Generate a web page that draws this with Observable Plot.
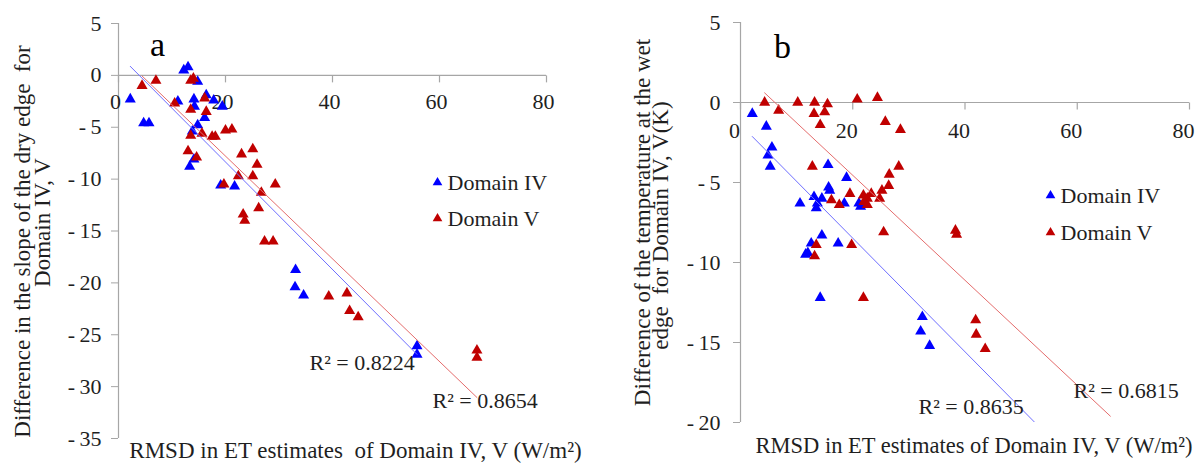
<!DOCTYPE html>
<html><head><meta charset="utf-8">
<script src="https://cdn.jsdelivr.net/npm/d3@7"></script>
<script src="https://cdn.jsdelivr.net/npm/@observablehq/plot@0.6"></script>
<style>
body{margin:0;background:#fff;}
#wrap{display:flex;width:1197px;height:464px;overflow:hidden;}
</style></head><body><div id="wrap"></div>
<script>
// ---- shared ----
const xTicks = [0, 20, 40, 60, 80];
const seriesNames = ["Domain IV", "Domain V"];
const markerColors = ["#0000FF", "#C00000"];
const trendColors = ["#6e6eff", "#e46c6c"];
const xTitleA = "RMSD in ET estimates  of Domain IV, V (W/m²)";
const xTitleB = "RMSD in ET estimates of Domain IV, V (W/m²)";

// ---- panel a ----
const yTicksA = [5, 0, -5, -10, -15, -20, -25, -30, -35];
const aIVx = [2.2,4.7,5.7,12.2,13.0,14.8,11.1,14.1,14.2,16.4,16.1,17.8,19.4,14.8,13.8,14.1,13.3,19.1,21.7,33.1,33.0,34.6,55.8,55.8];
const aIVy = [-2.3,-4.6,-4.6,0.5,0.8,-0.6,-2.5,-2.3,-3.0,-1.9,-4.1,-2.4,-3.0,-4.8,-5.4,-8.1,-8.8,-10.6,-10.7,-18.75,-20.4,-21.2,-26.1,-26.9];
const aVx = [4.4,7.0,10.5,13.5,14.0,13.5,16.1,16.4,13.5,15.6,17.5,18.1,20.0,21.2,13.0,14.6,19.7,23.0,25.1,25.9,25.1,22.4,29.3,26.7,26.2,23.3,23.6,27.3,28.9,39.3,42.7,43.2,44.8,67.0,67.0];
const aVy = [-1.0,-0.5,-2.7,-0.5,-0.3,-3.3,-2.2,-3.5,-5.8,-5.6,-5.9,-5.9,-5.3,-5.2,-7.3,-7.9,-10.5,-7.6,-7.1,-8.6,-9.7,-9.7,-10.5,-11.3,-12.8,-13.4,-14.0,-16.0,-16.0,-21.3,-21.0,-22.7,-23.3,-26.5,-27.2];
const trendSlopeA = [-0.518, -0.495];
const trendInterceptA = [2.01, 2.12];
const trendFromA = [2.2, 4.4];
const trendToA = [55.8, 67.0];
const r2A = ["R² = 0.8224", "R² = 0.8654"];
const yTitleA = ["Difference in the slope of the dry edge  for", "Domain IV, V"];

// ---- panel b ----
const yTicksB = [5, 0, -5, -10, -15, -20];
const bIVx = [2.1,4.6,5.6,4.9,5.3,10.6,13.1,13.7,13.5,14.5,15.6,15.7,15.9,18.9,18.5,21.1,21.4,14.5,12.6,12.0,11.6,17.4,14.2,32.4,32.1,33.7];
const bIVy = [-0.7,-1.5,-2.8,-3.3,-4.0,-6.3,-5.9,-6.3,-6.6,-6.0,-3.9,-5.3,-5.5,-4.7,-6.3,-6.3,-6.5,-8.3,-8.8,-9.4,-9.5,-8.8,-12.2,-13.4,-14.3,-15.2];
const bVx = [4.3,6.8,10.2,13.2,13.1,15.0,15.5,14.2,20.8,24.4,25.8,28.5,12.8,16.2,17.6,19.5,21.9,22.6,22.6,23.3,24.8,25.2,26.5,26.4,28.2,22.0,25.5,19.8,13.5,13.2,21.9,38.3,38.5,41.9,42.0,43.6];
const bVy = [0,-0.5,0,0,-0.7,-0.6,-0.1,-1.4,0.2,0.3,-1.2,-1.7,-4.0,-6.1,-6.4,-5.7,-5.8,-6.0,-6.4,-5.7,-6.0,-5.5,-4.5,-5.2,-4.0,-6.2,-8.1,-8.9,-8.9,-9.6,-12.2,-8.0,-8.25,-13.6,-14.5,-15.4];
const trendSlopeB = [-0.355, -0.328];
const trendInterceptB = [-1.38, 2.01];
const trendFromB = [2.1, 4.3];
const trendToB = [55.7, 65.9];
const r2B = ["R² = 0.8635", "R² = 0.6815"];
const yTitleB = ["Difference of the temperature at the wet", "edge  for Domain IV, V(K)"];

const axisColor = "#a6a6a6";
const textColor = "#1f1f1f";
const serif = "'Liberation Serif', 'Times New Roman', serif";
const tickDown = {draw(ctx) { ctx.moveTo(0, 0); ctx.lineTo(0, 7); }};
const fmtY = d => d < 0 ? "-\u2009" + String(-d) : String(d);

function pts(xs, ys) { return xs.map((x, i) => ({x, y: ys[i]})); }
function trendPts(slope, intercept, from, to) {
  return [from, to].map(x => ({x, y: intercept + slope * x}));
}

function panel(cfg) {
  const T = {fill: textColor, fontFamily: serif, lineAnchor: "middle"};
  const marks = [
    Plot.ruleY([0], {stroke: axisColor, strokeWidth: 1.2}),
    Plot.ruleX([0], {stroke: axisColor, strokeWidth: 1.2}),
    Plot.dot(xTicks, {x: d => d, y: 0, symbol: tickDown, stroke: axisColor, fill: "none", strokeWidth: 1.2}),
    Plot.text(xTicks, {...T, x: d => d, y: 0, text: d => String(d), dy: cfg.xLabelDy, dx: cfg.xLabelDx, fontSize: 22}),
    Plot.axisY(cfg.yTicks, {tickSize: 7, tickPadding: cfg.tickPadding, tickFormat: fmtY, stroke: axisColor, fill: textColor, fontFamily: serif, fontSize: 22, label: null}),
  ];
  cfg.series.forEach((s, i) => {
    marks.push(Plot.dot(pts(s.x, s.y), {x: "x", y: "y", symbol: "triangle", r: 4.1, fill: markerColors[i]}));
  });
  cfg.series.forEach((s, i) => {
    marks.push(Plot.line(trendPts(cfg.slope[i], cfg.intercept[i], cfg.from[i], cfg.to[i]), {x: "x", y: "y", stroke: trendColors[i], strokeWidth: 1, clip: true}));
  });
  // legend
  seriesNames.forEach((name, i) => {
    marks.push(Plot.dot([name], {frameAnchor: "top-left", dx: cfg.legendDx, dy: cfg.legendDy[i], symbol: "triangle", r: 3.6, fill: markerColors[i]}));
    marks.push(Plot.text([name], {...T, frameAnchor: "top-left", dx: cfg.legendDx + 10, dy: cfg.legendDy[i], text: d => d, textAnchor: "start", fontSize: 22}));
  });
  // R² labels
  cfg.r2.forEach((t, i) => {
    marks.push(Plot.text([t], {...T, frameAnchor: "top-left", dx: cfg.r2Pos[i][0], dy: cfg.r2Pos[i][1], text: d => d, textAnchor: "start", fontSize: 22}));
  });
  // y title lines
  cfg.yTitle.forEach((t, i) => {
    marks.push(Plot.text([t], {...T, frameAnchor: "left", dx: cfg.yTitlePos[i][0], dy: cfg.yTitlePos[i][1], rotate: -90, text: d => d, textAnchor: "middle", fontSize: 23}));
  });
  marks.push(Plot.text([cfg.xTitle], {...T, frameAnchor: "bottom", dx: cfg.xTitlePos[0], dy: cfg.xTitlePos[1], text: d => d, textAnchor: "middle", fontSize: cfg.xTitleSize}));
  marks.push(Plot.text([cfg.letter], {...T, frameAnchor: "top-left", dx: cfg.letterPos[0], dy: cfg.letterPos[1], text: d => d, textAnchor: "middle", fontSize: 34, fill: "#000"}));

  return Plot.plot({
    width: cfg.width, height: 464,
    marginLeft: cfg.ml, marginRight: cfg.mr, marginTop: cfg.mt, marginBottom: cfg.mb,
    x: {domain: [0, 80], axis: null},
    y: {domain: cfg.yDomain, axis: null},
    style: {fontFamily: serif, fontSize: "22px", background: "#fff", overflow: "visible", color: textColor},
    marks
  });
}

const wrap = document.getElementById("wrap");
wrap.append(panel({
  width: 600, ml: 118, mr: 54, mt: 23, mb: 26,
  yDomain: [-35, 5], yTicks: yTicksA, tickPadding: 10,
  xLabelDy: 27, xLabelDx: -3,
  series: [{x: aIVx, y: aIVy}, {x: aVx, y: aVy}],
  slope: trendSlopeA, intercept: trendInterceptA, from: trendFromA, to: trendToA,
  legendDx: 319, legendDy: [159, 195],
  r2: r2A, r2Pos: [[191, 339], [314, 377]],
  yTitle: yTitleA, yTitlePos: [[-96, 10.5], [-76, -8.5]],
  xTitle: xTitleA, xTitlePos: [23, 12], xTitleSize: 23,
  letter: "a", letterPos: [39, 22]
}));
wrap.append(panel({
  width: 597, ml: 140, mr: 8, mt: 22, mb: 42,
  yDomain: [-20, 5], yTicks: yTicksB, tickPadding: 13,
  xLabelDy: 28, xLabelDx: -6,
  series: [{x: bIVx, y: bIVy}, {x: bVx, y: bVy}],
  slope: trendSlopeB, intercept: trendInterceptB, from: trendFromB, to: trendToB,
  legendDx: 310, legendDy: [173, 210],
  r2: r2B, r2Pos: [[178, 384], [333, 368]],
  yTitle: yTitleB, yTitlePos: [[-98, 0], [-80, 3]],
  xTitle: xTitleB, xTitlePos: [9, 23], xTitleSize: 22.5,
  letter: "b", letterPos: [42, 25]
}));
</script></body></html>
